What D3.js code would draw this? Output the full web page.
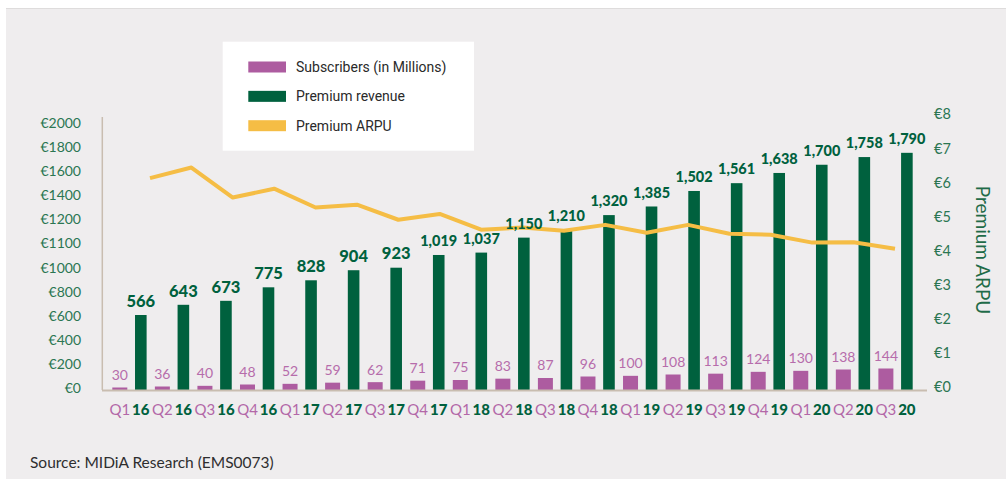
<!DOCTYPE html>
<html>
<head>
<meta charset="utf-8">
<script src="https://cdn.jsdelivr.net/npm/d3@7"></script>
<style>
  html, body { margin: 0; padding: 0; background: #ffffff; }
  svg { display: block; }
</style>
</head>
<body>
<svg id="chart" width="1006" height="479"></svg>
<script>
// ---- data ----
const quarters = ["Q1","Q2","Q3","Q4","Q1","Q2","Q3","Q4","Q1","Q2","Q3","Q4","Q1","Q2","Q3","Q4","Q1","Q2","Q3"];
const years    = ["16","16","16","16","17","17","17","17","18","18","18","18","19","19","19","19","20","20","20"];
const subscribers = [30,36,40,48,52,59,62,71,75,83,87,96,100,108,113,124,130,138,144];
const revenue = [566,643,673,775,828,904,923,1019,1037,1150,1210,1320,1385,1502,1561,1638,1700,1758,1790];
const arpu = [6.13,6.44,5.56,5.82,5.27,5.35,4.91,5.08,4.62,4.68,4.59,4.76,4.53,4.76,4.50,4.47,4.24,4.25,4.06];
const leftTickLabels = ["€0","€200","€400","€600","€800","€1000","€1100","€1200","€1400","€1600","€1800","€2000"];
const arpuTicks = [0,1,2,3,4,5,6,7,8];
const legendItems = ["Subscribers (in Millions)","Premium revenue","Premium ARPU"];

const cats = quarters.map((q,i) => q + " " + years[i] + " #" + i);

const COL_SUB = "#ad5ca0", COL_REV = "#00613e", COL_ARPU = "#f5bd45";
const COL_TICK = "#2b7652", FONT = "Lato, 'Open Sans', sans-serif";

const svg = d3.select("#chart");

// background panel
svg.append("rect").attr("x", 6).attr("y", 8).attr("width", 1000).attr("height", 471).attr("fill", "#efedee");
svg.append("line").attr("x1", 6).attr("x2", 1006).attr("y1", 8.5).attr("y2", 8.5).attr("stroke", "#dedcdc").attr("stroke-width", 1.2);

// scales
const baseY = 390;
const x = d3.scaleBand().domain(cats).range([103.8, 921.2]).paddingInner(0.194).paddingOuter(0.2);
const bw = x.bandwidth();
const subW = bw * 15 / 34.3, revW = bw * 11.6 / 34.3;
const yRev = d3.scaleLinear().domain([0, 2000]).range([baseY, 125]);
const ySub = d3.scaleLinear().domain([15, 150]).range([baseY, baseY - 22.5]);
const yTicks = d3.scalePoint().domain(leftTickLabels).range([388.3, 122.7]);
const xLine = d3.scalePoint().domain(cats).range([150, 895]);
const yArpu = d3.scaleLinear().domain([0, 8]).range([387.3, 114.3]);

// left axis labels
const gl = svg.append("g").attr("transform", "translate(81,0)")
  .call(d3.axisLeft(yTicks).tickSize(0).tickPadding(0));
gl.select(".domain").remove();
gl.selectAll("text").attr("fill", COL_TICK).style("font-family", FONT).style("font-size", "14px");

// right axis labels
const gr = svg.append("g").attr("transform", "translate(934,0)")
  .call(d3.axisRight(yArpu).tickValues(arpuTicks).tickFormat(d => "€" + d).tickSize(0).tickPadding(0));
gr.select(".domain").remove();
gr.selectAll("text").attr("fill", COL_TICK).style("font-family", FONT).style("font-size", "14.5px");

// right title
svg.append("text").attr("transform", "translate(976,250) rotate(90)")
  .attr("text-anchor", "middle").attr("fill", "#1f6b48")
  .style("font-family", FONT).style("font-size", "19px").text("Premium ARPU");

// subscriber bars
svg.append("g").selectAll("rect").data(subscribers).join("rect")
  .attr("x", (d,i) => x(cats[i])).attr("width", subW)
  .attr("y", d => ySub(d)).attr("height", d => baseY - ySub(d))
  .attr("fill", COL_SUB);

// revenue bars
svg.append("g").selectAll("rect").data(revenue).join("rect")
  .attr("x", (d,i) => x(cats[i]) + bw - revW).attr("width", revW)
  .attr("y", d => yRev(d)).attr("height", d => baseY - yRev(d))
  .attr("fill", COL_REV);

// axis lines
svg.append("line").attr("x1", 102.3).attr("x2", 102.3).attr("y1", 117).attr("y2", baseY)
  .attr("stroke", "#c9bdb0").attr("stroke-width", 1.5);
svg.append("line").attr("x1", 102).attr("x2", 927).attr("y1", baseY + 0.5).attr("y2", baseY + 0.5)
  .attr("stroke", "#c9bdb0").attr("stroke-width", 2);

// ARPU line
svg.append("path").datum(arpu)
  .attr("d", d3.line().x((d,i) => xLine(cats[i])).y(d => yArpu(d)))
  .attr("fill", "none").attr("stroke", COL_ARPU).attr("stroke-width", 4).attr("stroke-linejoin", "round");

// subscriber value labels
svg.append("g").selectAll("text").data(subscribers).join("text")
  .attr("x", (d,i) => x(cats[i]) + subW / 2).attr("y", d => ySub(d) - 12.5)
  .attr("dy", "0.35em").attr("text-anchor", "middle").attr("fill", "#b66cab")
  .style("font-family", FONT).style("font-size", "14px").text(d => d);

// revenue value labels
svg.append("g").selectAll("text").data(revenue).join("text")
  .attr("x", (d,i) => x(cats[i]) + bw - revW / 2).attr("y", d => yRev(d) - 14)
  .attr("dy", "0.35em").attr("text-anchor", "middle").attr("fill", COL_REV)
  .style("font-family", FONT).style("font-weight", "900")
  .style("font-size", d => d < 1000 ? "16.5px" : "14.5px")
  .text(d => d3.format(",")(d));

// x labels
const gx = svg.append("g");
gx.selectAll("text.q").data(quarters).join("text").attr("class", "q")
  .attr("x", (d,i) => x(cats[i]) + subW / 2).attr("y", 410).attr("dy", "0.35em")
  .attr("text-anchor", "middle").attr("fill", "#b368a8")
  .style("font-family", FONT).style("font-size", "15px").text(d => d);
gx.selectAll("text.yr").data(years).join("text").attr("class", "yr")
  .attr("x", (d,i) => x(cats[i]) + bw - revW / 2).attr("y", 410).attr("dy", "0.35em")
  .attr("text-anchor", "middle").attr("fill", COL_REV)
  .style("font-family", FONT).style("font-weight", "900").style("font-size", "15px").text(d => d);

// legend
const lg = svg.append("g");
lg.append("rect").attr("x", 222.7).attr("y", 41.7).attr("width", 251.3).attr("height", 109).attr("fill", "#ffffff");
const legendColors = [COL_SUB, COL_REV, COL_ARPU];
const ly = d3.scalePoint().domain(legendItems).range([67, 125.7]);
legendItems.forEach((t, i) => {
  lg.append("rect").attr("x", 248.3).attr("y", ly(t) - 5.5).attr("width", 37.7).attr("height", 11).attr("fill", legendColors[i]);
  lg.append("text").attr("x", 296).attr("y", ly(t)).attr("dy", "0.35em").attr("fill", "#2a2a2a")
    .style("font-family", "Roboto, sans-serif").style("font-size", "14px").text(t);
});

// source
svg.append("text").attr("x", 30).attr("y", 463).attr("dy", "0.35em").attr("fill", "#2e2e2e")
  .style("font-family", FONT).style("font-size", "15.5px").text("Source: MIDiA Research (EMS0073)");
</script>
</body>
</html>
